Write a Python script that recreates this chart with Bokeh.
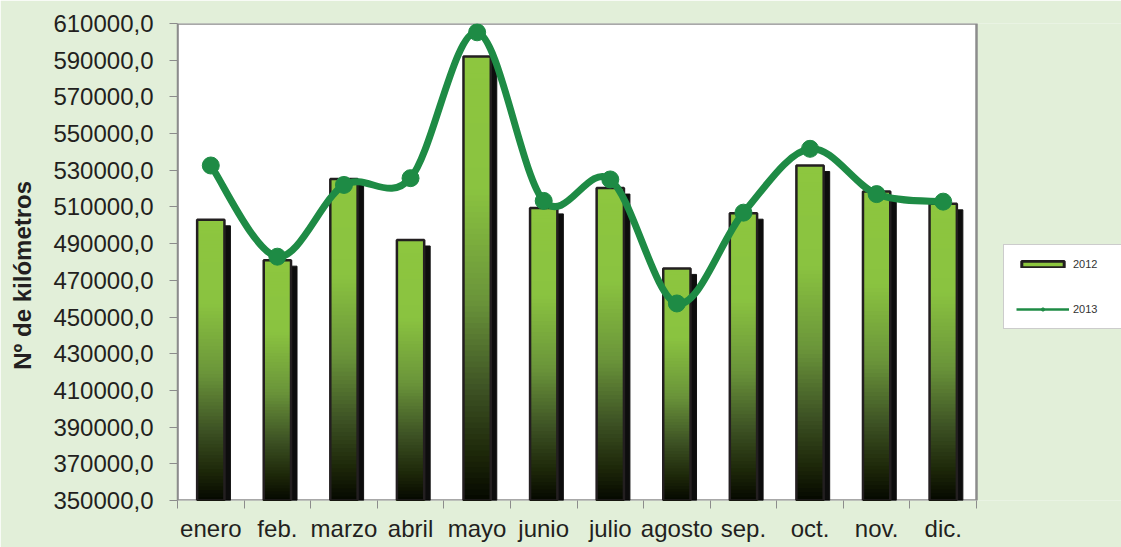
import numpy as np
from bokeh.plotting import figure
from bokeh.models import Range1d, FixedTicker, Legend, LegendItem, ColumnDataSource
from bokeh.embed import file_html
from bokeh.resources import INLINE

# ---- data ----
months = ["enero", "feb.", "marzo", "abril", "mayo", "junio", "julio",
          "agosto", "sep.", "oct.", "nov.", "dic."]
km_2012 = [503000, 481000, 525300, 492000, 592000, 509500, 520300,
           476500, 506600, 532600, 518400, 511700]
km_2013 = [532600, 482900, 522000, 525700, 605200, 513300, 525000,
           457400, 506900, 541700, 517000, 512900]
y_ticks = list(range(350000, 610001, 20000))
y_tick_labels = [f"{v},0" for v in y_ticks]

Y0, Y1 = y_ticks[0], y_ticks[-1]
FONT = "Liberation Sans"
TXT = "#231F20"
GREEN = "#1E8B45"
GRAY = "#8C8C8C"
BG = "#E2EFD9"

n = len(months)
W, H = 1121, 547
LEFT, TOP, BOTTOM = 177, 23, 47
PLOT_W = 799                            # pixel width of the white plot area
x_end = n * (W - LEFT) / PLOT_W         # frame also hosts the legend on the right

p = figure(width=W, height=H, x_range=Range1d(0, x_end), y_range=Range1d(Y0, Y1),
           output_backend="svg", toolbar_location=None,
           min_border_left=LEFT, min_border_right=0, min_border_top=TOP, min_border_bottom=BOTTOM)
p.background_fill_color = BG
p.border_fill_color = BG
p.outline_line_color = None
p.xgrid.visible = False
p.ygrid.visible = False

# white plot area with gray border
p.quad(left=[0], right=[n], top=[Y1], bottom=[Y0], fill_color="white",
       line_color=GRAY, line_width=2.5)

xc = np.arange(n) + 0.5
half = 0.205
dx_sh = 0.09                       # shadow offset (~6px)
dy_sh = 6 * (Y1 - Y0) / 477

# shadows
p.quad(left=xc - half + dx_sh, right=xc + half + dx_sh,
       top=np.array(km_2012) - dy_sh, bottom=Y0,
       fill_color="black", line_color="#111111", line_width=1, fill_alpha=0.95)

# gradient bars (overlapping slices, top to bottom)
stops = [(0.0, (0x8D, 0xC6, 0x3F)), (0.3, (0x8A, 0xC3, 0x40)), (0.55, (0x6A, 0x94, 0x3A)),
         (0.75, (0x3D, 0x52, 0x24)), (0.9, (0x1C, 0x26, 0x08)), (1.0, (0x05, 0x08, 0x00))]

def grad(f):
    for (f0, c0), (f1, c1) in zip(stops[:-1], stops[1:]):
        if f <= f1:
            t = (f - f0) / (f1 - f0)
            c = [int(round(a + (b - a) * t)) for a, b in zip(c0, c1)]
            return "#%02x%02x%02x" % tuple(c)
    return "#050800"

NS = 80
L, R, T, B, C = [], [], [], [], []
for k in range(NS):
    for i, v in enumerate(km_2012):
        L.append(xc[i] - half); R.append(xc[i] + half)
        T.append(v - (v - Y0) * k / NS); B.append(Y0)
        C.append(grad((k + 0.5) / NS))
seg = ColumnDataSource(dict(left=L, right=R, top=T, bottom=B, color=C))
p.quad(left="left", right="right", top="top", bottom="bottom", source=seg,
       fill_color="color", line_color=None)
# bar outlines
p.quad(left=xc - half, right=xc + half, top=km_2012, bottom=Y0,
       fill_color=None, line_color=TXT, line_width=2.5)

# smoothed 2013 line (Bezier through the points)
y3 = np.array(km_2013, dtype=float)
x0s, y0s, x1s, y1s, cx0, cy0, cx1, cy1 = [], [], [], [], [], [], [], []
for i in range(n - 1):
    im1 = max(i - 1, 0); ip2 = min(i + 2, n - 1)
    x0s.append(xc[i]); y0s.append(y3[i]); x1s.append(xc[i + 1]); y1s.append(y3[i + 1])
    cx0.append(xc[i] + (xc[i + 1] - xc[im1]) / 6); cy0.append(y3[i] + (y3[i + 1] - y3[im1]) / 6)
    cx1.append(xc[i + 1] - (xc[ip2] - xc[i]) / 6); cy1.append(y3[i + 1] - (y3[ip2] - y3[i]) / 6)
p.bezier(x0=x0s, y0=y0s, x1=x1s, y1=y1s, cx0=cx0, cy0=cy0, cx1=cx1, cy1=cy1,
         line_color=GREEN, line_width=7, line_cap="round")
p.scatter(xc, km_2013, size=17, fill_color=GREEN, line_color=GREEN)

# axes
p.xaxis.ticker = FixedTicker(ticks=list(xc), minor_ticks=list(range(n + 1)))
p.xaxis.major_label_overrides = {float(x): m for x, m in zip(xc, months)}
p.xaxis.axis_line_color = None
p.xaxis.major_tick_out = 0
p.xaxis.major_tick_in = 0
p.xaxis.minor_tick_out = 8
p.xaxis.minor_tick_in = 0
p.xaxis.minor_tick_line_color = GRAY
p.xaxis.major_label_standoff = 6
p.yaxis.ticker = FixedTicker(ticks=y_ticks, minor_ticks=[])
p.yaxis.major_label_overrides = {v: s for v, s in zip(y_ticks, y_tick_labels)}
p.yaxis.axis_line_color = GRAY
p.yaxis.axis_line_width = 1.5
p.yaxis.major_tick_out = 8
p.yaxis.major_tick_in = 0
p.yaxis.major_label_standoff = 16
p.yaxis.axis_label = "Nº de kilómetros" + "\u00a0" * 4
p.yaxis.axis_label_text_font = FONT
p.yaxis.axis_label_text_font_size = "24px"
p.yaxis.axis_label_text_font_style = "bold"
p.yaxis.axis_label_text_color = TXT
p.yaxis.axis_label_standoff = 14
for ax in (p.xaxis, p.yaxis):
    ax.major_tick_line_color = GRAY
    ax.major_label_text_font = FONT
    ax.major_label_text_font_size = "24px"
    ax.major_label_text_color = TXT

# legend (hidden proxy renderers carrying the legend styling)
r_bar = p.quad(left=xc - half, right=xc + half, top=km_2012, bottom=Y0,
               fill_color="#8DC63F", line_color=TXT, line_width=3, visible=False)
r_ln = p.line(xc, km_2013, line_color=GREEN, line_width=2.5, visible=False)
r_pt = p.scatter(xc, km_2013, size=8, fill_color=GREEN, line_color=GREEN, visible=False)
legend = Legend(items=[LegendItem(label="2012", renderers=[r_bar]),
                       LegendItem(label="2013", renderers=[r_ln, r_pt])],
                location=(826, 171), orientation="vertical",
                glyph_width=53, glyph_height=8, label_height=14, label_width=60,
                label_standoff=4, spacing=31, padding=12, margin=0,
                label_text_font=FONT, label_text_font_size="11px", label_text_color="#333333",
                border_line_color="#9A9A9A", border_line_width=1.5,
                background_fill_color="white", background_fill_alpha=1,
                inactive_fill_alpha=0, click_policy="none")
p.add_layout(legend)

open("out.html", "w").write(file_html(p, INLINE))
